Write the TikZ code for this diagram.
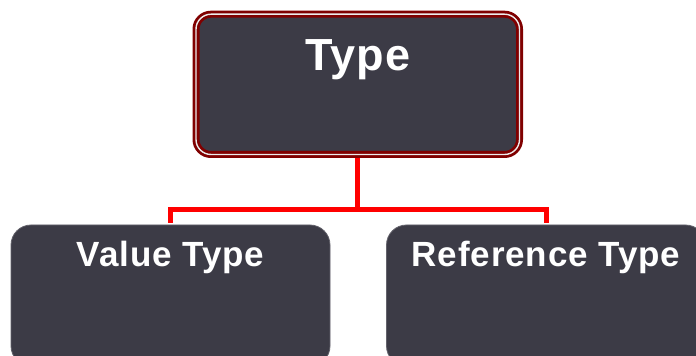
\documentclass[tikz,border=0pt]{standalone}
\usepackage{fontspec}
\setmainfont[LetterSpace=2.5]{Liberation Sans}
\usepackage{tikz}
\usetikzlibrary{arrows.meta}
\usetikzlibrary{calc}
\usetikzlibrary{shapes}
\usetikzlibrary{backgrounds}

\definecolor{slate}{RGB}{60,59,70}
\definecolor{maroon}{RGB}{128,0,0}

\begin{document}
\begin{tikzpicture}[x=1pt, y=1pt,
        root_style/.style={rectangle,rounded corners=15pt,fill=slate,draw=maroon,line width=2.8pt,
            double=white!85!gray,double distance=1.4pt,minimum width=323.5pt,minimum height=140.3pt,inner sep=0pt},
        box_style/.style={rectangle,rounded corners=20pt,fill=slate,draw=slate!80!white,line width=0.8pt,
            minimum width=319pt,minimum height=141pt,inner sep=0pt},
        big_text/.style={text=white,inner sep=0pt,anchor=base,font=\fontsize{45}{54}\selectfont\bfseries},
        small_text/.style={text=white,inner sep=0pt,anchor=base,font=\fontsize{35}{42}\selectfont\bfseries},
        branch_style/.style={draw=red, line width=5pt, line join=miter}]

        \useasboundingbox (0,0) rectangle (696,356);
        \clip (0,0) rectangle (696,356);

        \node [root_style,label={[big_text,yshift=-57.8pt]north:Type}](n1) at (357.75,271.65) {};

        \node [box_style,label={[small_text,yshift=-42pt]north:Value Type}](n2) at (170.5,60.5) {};

        \node [box_style,label={[small_text,yshift=-42pt]north:Reference Type}](n3) at (546,60.5) {};

        \coordinate (fork) at (357.75,146);

        \begin{pgfonlayer}{background}
        \draw [branch_style] (n1.south) -- (fork);

        \draw [branch_style] ([yshift=2pt]n2.north) |- (fork) -| ([yshift=2pt]n3.north);
        \end{pgfonlayer}

        \end{tikzpicture}
\end{document}
